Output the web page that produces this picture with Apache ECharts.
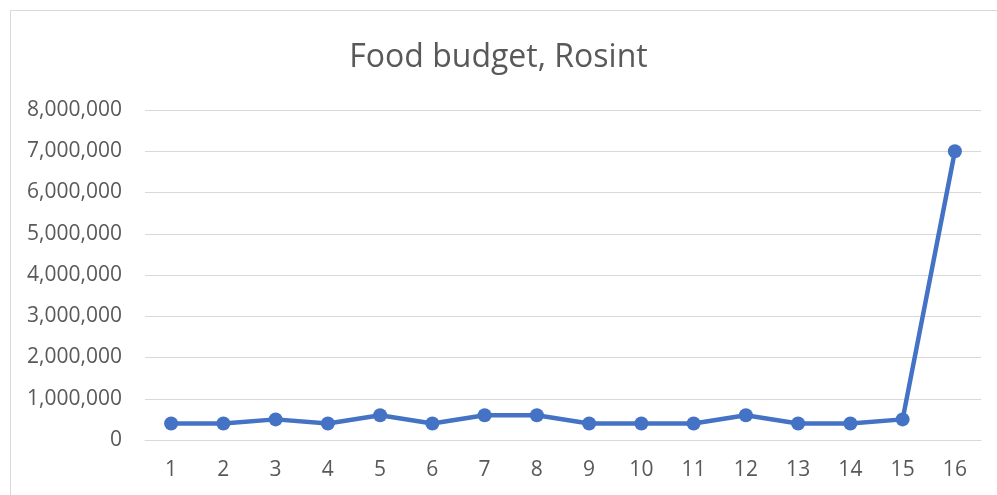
<!DOCTYPE html>
<html><head><meta charset="utf-8">
<script src="https://cdn.jsdelivr.net/npm/echarts@6/dist/echarts.min.js"></script>
<style>
html,body{margin:0;padding:0;background:#fff;}
#frame{position:absolute;left:10px;top:10px;width:990px;height:490px;border:1px solid #d9d9d9;box-sizing:border-box;}
#chart{position:absolute;left:0;top:0;width:997px;height:495px;}
</style></head>
<body>
<div id="frame"></div>
<div id="chart"></div>
<script>
const categories = ['1','2','3','4','5','6','7','8','9','10','11','12','13','14','15','16'];
const budget = [400000,400000,500000,400000,600000,400000,600000,600000,400000,400000,400000,600000,400000,400000,500000,7000000];
const titleText = 'Food budget, Rosint';

const chart = echarts.init(document.getElementById('chart'), null, {renderer:'canvas'});
chart.setOption({
  animation:false,
  title:{text:titleText,left:'center',top:37,textStyle:{fontFamily:'Open Sans',fontWeight:'normal',fontSize:32,color:'#595959'}},
  grid:{left:145,right:16,top:110,bottom:55,containLabel:false},
  xAxis:{type:'category',data:categories,boundaryGap:true,
    axisLine:{lineStyle:{color:'#d9d9d9',width:1}},axisTick:{show:false},
    axisLabel:{fontFamily:'Open Sans',fontSize:21,color:'#595959',margin:20}},
  yAxis:{type:'value',min:0,max:8000000,interval:1000000,
    axisLine:{show:false},axisTick:{show:false},
    splitLine:{lineStyle:{color:'#d9d9d9',width:1}},
    axisLabel:{fontFamily:'Open Sans',fontSize:21,color:'#595959',margin:23,
      formatter:v=>v.toLocaleString('en-US')}},
  series:[{type:'line',data:budget,symbol:'circle',symbolSize:14,
    lineStyle:{color:'#4472C4',width:4.5},itemStyle:{color:'#4472C4'}}]
});
</script>
</body></html>
